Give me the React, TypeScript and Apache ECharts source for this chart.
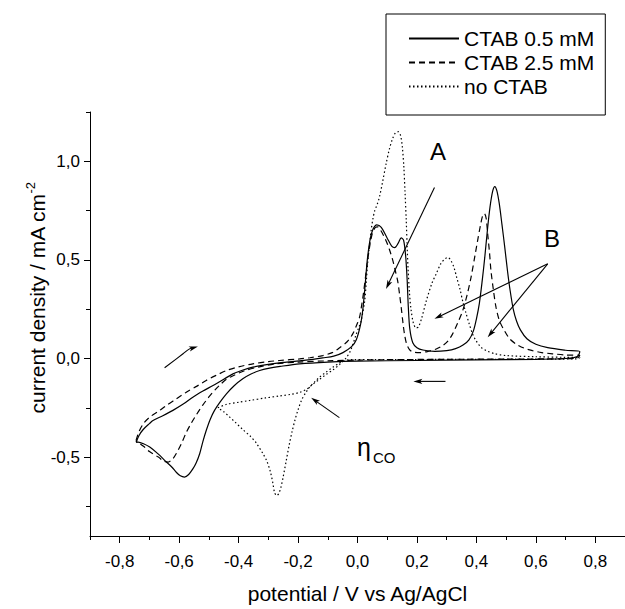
import React, { useEffect, useRef } from 'react';
import * as echarts from 'echarts';

const FONT = "'Liberation Sans', Arial, Helvetica, sans-serif";

const xMajorTicks = [-0.8, -0.6, -0.4, -0.2, 0, 0.2, 0.4, 0.6, 0.8];
const xMinorTicks = [-0.9, -0.7, -0.5, -0.3, -0.1, 0.1, 0.3, 0.5, 0.7, 0.9];
const yMajorTicks = [-0.5, 0, 0.5, 1.0];
const yMinorTicks = [-0.75, -0.25, 0.25, 0.75, 1.25];

const seriesNames = ['CTAB 0.5 mM', 'CTAB 2.5 mM', 'no CTAB'];

// CTAB 0.5 mM (solid): anodic sweep from -0.745 V, then cathodic return
const ctab05 = [
  [-0.745, -0.425], [-0.735, -0.39], [-0.721, -0.36], [-0.7, -0.33], [-0.688, -0.314], [-0.655, -0.29],
  [-0.621, -0.263], [-0.585, -0.23], [-0.554, -0.196], [-0.52, -0.165], [-0.486, -0.137], [-0.45, -0.105],
  [-0.419, -0.078], [-0.385, -0.058], [-0.352, -0.044], [-0.3, -0.03], [-0.25, -0.02], [-0.195, -0.012],
  [-0.15, -0.004], [-0.117, 0.003], [-0.08, 0.012], [-0.049, 0.03], [-0.02, 0.06], [-0.004, 0.095],
  [0.01, 0.17], [0.018, 0.25], [0.025, 0.36], [0.033, 0.5], [0.042, 0.6], [0.052, 0.655], [0.065, 0.678],
  [0.08, 0.665], [0.1, 0.61], [0.115, 0.57], [0.125, 0.562], [0.137, 0.585], [0.147, 0.612], [0.155, 0.6],
  [0.162, 0.52], [0.167, 0.4], [0.171, 0.26], [0.176, 0.15], [0.186, 0.08], [0.2, 0.055], [0.22, 0.043],
  [0.26, 0.036], [0.3, 0.04], [0.33, 0.05], [0.355, 0.068], [0.375, 0.095], [0.39, 0.14], [0.4, 0.2],
  [0.41, 0.28], [0.42, 0.4], [0.428, 0.51], [0.437, 0.65], [0.446, 0.77], [0.455, 0.85], [0.462, 0.872],
  [0.469, 0.85], [0.477, 0.785], [0.486, 0.68], [0.495, 0.57], [0.505, 0.44], [0.513, 0.35], [0.524, 0.25],
  [0.535, 0.19], [0.548, 0.145], [0.57, 0.1], [0.6, 0.072], [0.64, 0.055], [0.7, 0.042], [0.748, 0.035],
  [0.74, 0.01], [0.7, 0.0], [0.6, -0.004], [0.4, -0.007], [0.2, -0.01], [0.0, -0.013], [-0.1, -0.018],
  [-0.195, -0.027], [-0.26, -0.04], [-0.3, -0.05], [-0.329, -0.061], [-0.36, -0.08], [-0.386, -0.103],
  [-0.415, -0.138], [-0.441, -0.179], [-0.462, -0.22], [-0.481, -0.263], [-0.496, -0.31], [-0.509, -0.365],
  [-0.52, -0.42], [-0.531, -0.483], [-0.543, -0.53], [-0.554, -0.56], [-0.568, -0.588], [-0.582, -0.601],
  [-0.596, -0.595], [-0.609, -0.578], [-0.625, -0.55], [-0.643, -0.525], [-0.67, -0.485], [-0.699, -0.449],
  [-0.72, -0.432], [-0.738, -0.424], [-0.745, -0.425]
];

// CTAB 2.5 mM (dashed)
const ctab25 = [
  [-0.745, -0.415], [-0.735, -0.37], [-0.72, -0.33], [-0.699, -0.297], [-0.67, -0.268], [-0.643, -0.238],
  [-0.61, -0.205], [-0.576, -0.171], [-0.54, -0.14], [-0.509, -0.111], [-0.475, -0.085], [-0.441, -0.061],
  [-0.4, -0.042], [-0.352, -0.027], [-0.3, -0.016], [-0.262, -0.01], [-0.195, -0.002], [-0.16, 0.004],
  [-0.117, 0.015], [-0.085, 0.03], [-0.06, 0.055], [-0.035, 0.085], [-0.016, 0.125], [0.0, 0.18],
  [0.007, 0.21], [0.014, 0.27], [0.02, 0.33], [0.03, 0.45], [0.04, 0.56], [0.05, 0.635], [0.06, 0.665],
  [0.068, 0.668], [0.08, 0.645], [0.096, 0.597], [0.108, 0.55], [0.119, 0.496], [0.128, 0.44], [0.135, 0.395],
  [0.142, 0.32], [0.147, 0.26], [0.153, 0.18], [0.158, 0.125], [0.165, 0.075], [0.175, 0.045], [0.186, 0.033],
  [0.21, 0.03], [0.242, 0.038], [0.265, 0.048], [0.287, 0.066], [0.305, 0.09], [0.32, 0.125], [0.337, 0.18],
  [0.354, 0.243], [0.37, 0.33], [0.382, 0.412], [0.395, 0.52], [0.404, 0.597], [0.413, 0.67], [0.421, 0.724],
  [0.427, 0.735], [0.433, 0.71], [0.438, 0.631], [0.444, 0.54], [0.449, 0.446], [0.457, 0.35], [0.466, 0.26],
  [0.478, 0.19], [0.494, 0.142], [0.512, 0.1], [0.533, 0.074], [0.56, 0.053], [0.589, 0.04], [0.62, 0.03],
  [0.656, 0.024], [0.7, 0.018], [0.748, 0.015],
  [0.74, 0.003], [0.7, -0.001], [0.5, -0.003], [0.3, -0.004], [0.1, -0.006], [0.0, -0.008], [-0.1, -0.012],
  [-0.2, -0.018], [-0.28, -0.028], [-0.33, -0.042], [-0.38, -0.062], [-0.415, -0.085], [-0.441, -0.105],
  [-0.46, -0.13], [-0.48, -0.16], [-0.5, -0.195], [-0.52, -0.235], [-0.542, -0.285], [-0.56, -0.33],
  [-0.576, -0.375], [-0.592, -0.43], [-0.609, -0.48], [-0.622, -0.51], [-0.637, -0.525], [-0.652, -0.52],
  [-0.67, -0.5], [-0.7, -0.472], [-0.72, -0.445], [-0.738, -0.425], [-0.745, -0.415]
];

// no CTAB (dotted)
const noCtab = [
  [-0.47, -0.25], [-0.44, -0.232], [-0.4, -0.222], [-0.363, -0.213], [-0.31, -0.2], [-0.262, -0.19],
  [-0.225, -0.182], [-0.195, -0.172], [-0.17, -0.155], [-0.15, -0.13], [-0.127, -0.105], [-0.105, -0.08],
  [-0.083, -0.058], [-0.06, -0.03], [-0.04, 0.0], [-0.025, 0.035], [-0.016, 0.07], [-0.005, 0.12],
  [0.005, 0.16], [0.012, 0.19], [0.024, 0.29], [0.03, 0.4], [0.035, 0.5], [0.041, 0.58], [0.046, 0.65],
  [0.052, 0.71], [0.058, 0.75], [0.066, 0.78], [0.074, 0.82], [0.085, 0.9], [0.096, 0.986], [0.107, 1.06],
  [0.118, 1.115], [0.128, 1.145], [0.137, 1.15], [0.145, 1.13], [0.151, 1.07], [0.156, 0.97], [0.16, 0.84],
  [0.164, 0.7], [0.167, 0.57], [0.17, 0.46], [0.175, 0.33], [0.18, 0.25], [0.188, 0.18], [0.197, 0.155],
  [0.205, 0.16], [0.215, 0.2], [0.231, 0.29], [0.25, 0.38], [0.265, 0.43], [0.28, 0.48], [0.294, 0.505],
  [0.304, 0.513], [0.315, 0.495], [0.325, 0.46], [0.334, 0.41], [0.345, 0.35], [0.354, 0.29], [0.365, 0.23],
  [0.376, 0.175], [0.387, 0.125], [0.399, 0.09], [0.415, 0.058], [0.433, 0.04], [0.46, 0.025], [0.5, 0.015],
  [0.6, 0.009], [0.7, 0.006], [0.748, 0.005],
  [0.74, -0.002], [0.6, -0.003], [0.4, -0.004], [0.2, -0.005], [0.05, -0.005], [-0.02, -0.006], [-0.04, -0.01],
  [-0.06, -0.022], [-0.083, -0.044], [-0.105, -0.068], [-0.128, -0.095], [-0.145, -0.12], [-0.161, -0.145],
  [-0.175, -0.175], [-0.188, -0.21], [-0.2, -0.26], [-0.21, -0.31], [-0.22, -0.37], [-0.23, -0.44],
  [-0.24, -0.52], [-0.25, -0.6], [-0.258, -0.655], [-0.265, -0.685], [-0.272, -0.695], [-0.279, -0.68],
  [-0.285, -0.63], [-0.293, -0.575], [-0.305, -0.52], [-0.318, -0.483], [-0.34, -0.43], [-0.36, -0.395],
  [-0.386, -0.36], [-0.41, -0.325], [-0.43, -0.297], [-0.45, -0.27], [-0.47, -0.25]
];

// annotation arrows (data coordinates, last point is the tip)
const arrows = [
  [[0.259, 0.867], [0.096, 0.353]],
  [[0.64, 0.48], [0.259, 0.201]],
  [[0.64, 0.48], [0.438, 0.108]],
  [[-0.061, -0.3], [-0.156, -0.199]],
  [[-0.649, -0.047], [-0.587, 0.024], [-0.565, 0.049], [-0.537, 0.061]],
  [[0.296, -0.116], [0.188, -0.116]]
];

const fmt = (v: number) => v.toFixed(1).replace('.', ',');

export default function App() {
  const ref = useRef<HTMLDivElement>(null);
  useEffect(() => {
    if (!ref.current) return;
    const chart = echarts.init(ref.current, null, { renderer: 'svg' });
    const lineBase = (name: string, data: number[][], type: any) => ({
      type: 'line',
      name,
      data,
      symbol: 'none',
      showSymbol: false,
      smooth: 0.3,
      silent: true,
      lineStyle: { color: '#000', width: 1.2, type },
      itemStyle: { color: '#000' },
      z: 3
    });
    const axisCommon = {
      type: 'value',
      splitLine: { show: false },
      axisLine: { show: true, onZero: false, lineStyle: { color: '#000', width: 1 } }
    };
    chart.setOption({
      animation: false,
      grid: { left: 90, right: 0, top: 112, bottom: 72, containLabel: false },
      xAxis: [
        {
          ...axisCommon,
          min: -0.9, max: 0.9, position: 'bottom',
          axisTick: { show: true, length: 7, customValues: xMajorTicks, lineStyle: { color: '#000' } },
          axisLabel: { customValues: xMajorTicks, formatter: fmt, fontSize: 17, color: '#000', fontFamily: FONT, margin: 17 },
          name: 'potential / V vs Ag/AgCl', nameLocation: 'middle', nameGap: 47,
          nameTextStyle: { fontSize: 21, color: '#000', fontFamily: FONT }
        },
        {
          ...axisCommon,
          min: -0.9, max: 0.9, position: 'bottom',
          axisLine: { show: false, onZero: false },
          axisTick: { show: true, length: 4, customValues: xMinorTicks, lineStyle: { color: '#000' } },
          axisLabel: { show: false }
        }
      ],
      yAxis: [
        {
          ...axisCommon,
          min: -0.9, max: 1.25, position: 'left',
          axisTick: { show: true, length: 6, customValues: yMajorTicks, lineStyle: { color: '#000' } },
          axisLabel: { customValues: yMajorTicks, formatter: fmt, fontSize: 17, color: '#000', fontFamily: FONT, margin: 10 }
        },
        {
          ...axisCommon,
          min: -0.9, max: 1.25, position: 'left',
          axisLine: { show: false, onZero: false },
          axisTick: { show: true, length: 4, customValues: yMinorTicks, lineStyle: { color: '#000' } },
          axisLabel: { show: false }
        }
      ],
      legend: {
        data: seriesNames,
        orient: 'vertical',
        left: 386,
        top: 14,
        itemWidth: 50,
        itemHeight: 14,
        itemGap: 3,
        padding: [14, 11, 18, 22],
        borderColor: '#000',
        borderWidth: 1,
        selectedMode: false,
        itemStyle: { opacity: 0 },
        textStyle: { fontSize: 21, color: '#000', fontFamily: FONT }
      },
      series: [
        lineBase(seriesNames[0], ctab05, 'solid'),
        lineBase(seriesNames[1], ctab25, [6, 4]),
        lineBase(seriesNames[2], noCtab, [1.5, 2.5]),
        {
          type: 'custom',
          silent: true,
          clip: false,
          data: arrows.map((a) => [a[0][0], a[0][1]]),
          renderItem: (params: any, api: any) => {
            const pts = arrows[params.dataIndex].map((p) => api.coord(p));
            const n = pts.length;
            const tip = pts[n - 1];
            const prev = pts[n - 2];
            let dx = tip[0] - prev[0];
            let dy = tip[1] - prev[1];
            const len = Math.hypot(dx, dy) || 1;
            dx /= len; dy /= len;
            const L = 9, W = 2.6;
            const bx = tip[0] - dx * L, by = tip[1] - dy * L;
            const head = [
              tip,
              [bx - dy * W, by + dx * W],
              [tip[0] - dx * L * 0.75, tip[1] - dy * L * 0.75],
              [bx + dy * W, by - dx * W]
            ];
            const linePts = pts.slice(0, n - 1).concat([[tip[0] - dx * L * 0.6, tip[1] - dy * L * 0.6]]);
            return {
              type: 'group',
              children: [
                { type: 'polyline', shape: { points: linePts, smooth: n > 2 ? 0.4 : 0 }, style: { stroke: '#000', lineWidth: 1.1, fill: null } },
                { type: 'polygon', shape: { points: head }, style: { fill: '#000', stroke: null } }
              ]
            };
          },
          z: 4
        }
      ],
      graphic: [
        {
          type: 'text', x: 37, y: 298, rotation: Math.PI / 2,
          style: {
            text: '{m|current density / mA cm}{s|-2}',
            align: 'center', verticalAlign: 'middle',
            rich: {
              m: { fontSize: 21, fontFamily: FONT, fill: '#000', lineHeight: 26 },
              s: { fontSize: 13, fontFamily: FONT, fill: '#000', lineHeight: 14, verticalAlign: 'top' }
            }
          }
        },
        { type: 'text', x: 438, y: 151, style: { text: 'A', fontSize: 24, fontFamily: FONT, fill: '#000', align: 'center', verticalAlign: 'middle' } },
        { type: 'text', x: 552, y: 238, style: { text: 'B', fontSize: 24, fontFamily: FONT, fill: '#000', align: 'center', verticalAlign: 'middle' } },
        { type: 'text', x: 357, y: 447, style: { text: 'η', fontSize: 25, fontFamily: FONT, fill: '#000', align: 'left', verticalAlign: 'middle' } },
        { type: 'text', x: 373, y: 457, style: { text: 'CO', fontSize: 15, fontFamily: FONT, fill: '#000', align: 'left', verticalAlign: 'middle' } }
      ]
    });
    return () => chart.dispose();
  }, []);
  return <div ref={ref} style={{ position: 'fixed', left: 0, top: 0, width: 625, height: 609, background: '#fff' }} />;
}
